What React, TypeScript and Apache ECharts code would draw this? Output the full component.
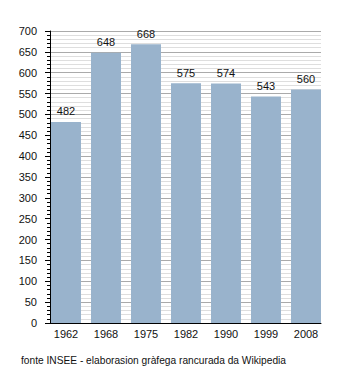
import React, { useEffect, useRef } from "react";
import * as echarts from "echarts";

const years = ["1962", "1968", "1975", "1982", "1990", "1999", "2008"];
const population = [482, 648, 668, 575, 574, 543, 560];
const footer = "fonte INSEE - elaborasion gràfega rancurada da Wikipedia";
const FONT = "'Liberation Sans', Arial, sans-serif";

export default function App() {
  const ref = useRef<HTMLDivElement>(null);
  useEffect(() => {
    document.body.style.margin = "0";
    if (!ref.current) return;
    const chart = echarts.init(ref.current, null, { renderer: "svg" });
    chart.setOption({
      animation: false,
      backgroundColor: "#fff",
      textStyle: { fontFamily: FONT },
      grid: [
        { left: 50, right: 29, top: 31, bottom: 50 },
        { left: 46, right: 24, top: 31, bottom: 50 },
      ],
      xAxis: [
        {
          gridIndex: 0,
          type: "category",
          data: years,
          axisLine: { show: true, lineStyle: { color: "#000", width: 1 } },
          axisTick: { show: false },
          axisLabel: { show: false },
          splitLine: { show: false },
          z: 1,
        },
        {
          gridIndex: 1,
          type: "category",
          data: years,
          axisLine: { show: false },
          axisTick: { show: false },
          axisLabel: { show: true, color: "#111", fontSize: 11, margin: 5, fontFamily: FONT },
          splitLine: { show: false },
          z: 0,
        },
      ],
      yAxis: [
        {
          gridIndex: 0,
          type: "value",
          min: 0,
          max: 700,
          interval: 50,
          axisLine: { show: true, lineStyle: { color: "#000", width: 1 } },
          axisTick: { show: true, length: 5, lineStyle: { color: "#000" } },
          minorTick: { show: true, splitNumber: 5, length: 3, lineStyle: { color: "#000" } },
          axisLabel: { color: "#111", fontSize: 11, margin: 13, fontFamily: FONT },
          splitLine: { show: true, lineStyle: { color: "#aaaaaa", width: 1 } },
          minorSplitLine: { show: true, lineStyle: { color: "#dedede", width: 1 } },
          z: 0,
        },
        {
          gridIndex: 1,
          type: "value",
          min: 0,
          max: 700,
          show: false,
          splitLine: { show: false },
        },
      ],
      series: [
        {
          type: "bar",
          xAxisIndex: 1,
          yAxisIndex: 1,
          data: population,
          barWidth: 30,
          itemStyle: { color: "#99b3cc" },
          label: {
            show: true,
            position: "top",
            distance: 5,
            color: "#111",
            fontSize: 11,
            fontFamily: FONT,
          },
          z: 3,
        },
      ],
      graphic: [
        {
          type: "text",
          left: 21,
          top: 355,
          style: { text: footer, fill: "#111", fontSize: 10.2, fontFamily: FONT },
        },
      ],
    });
    return () => chart.dispose();
  }, []);
  return <div ref={ref} style={{ width: 350, height: 373 }} />;
}
